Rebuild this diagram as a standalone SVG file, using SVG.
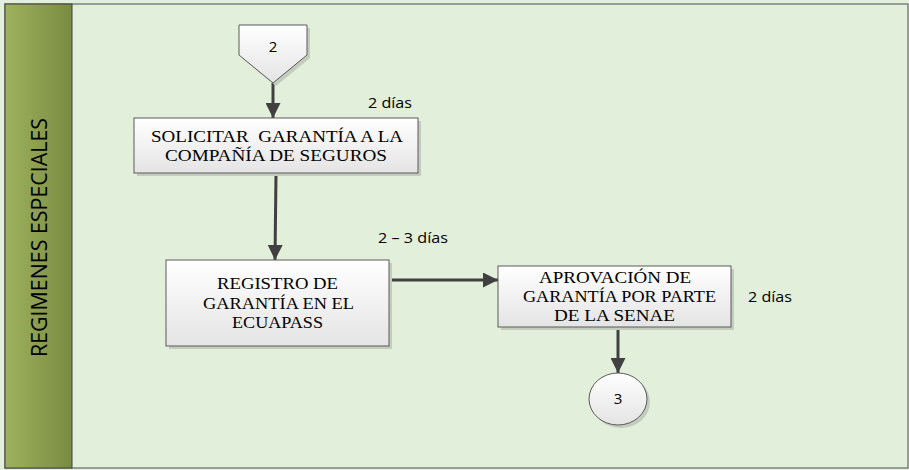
<svg xmlns="http://www.w3.org/2000/svg" width="909" height="470" viewBox="0 0 909 470">
<defs>
<linearGradient id="hdr" x1="0" y1="0" x2="1" y2="0">
<stop offset="0" stop-color="#9db25e"/>
<stop offset="1" stop-color="#7a8b41"/>
</linearGradient>
<linearGradient id="box" x1="0" y1="0" x2="0" y2="1">
<stop offset="0" stop-color="#ffffff"/>
<stop offset="1" stop-color="#e4e4e4"/>
</linearGradient>
<marker id="ah" viewBox="0 0 10 10" refX="10" refY="5" markerWidth="5" markerHeight="5" markerUnits="strokeWidth" orient="auto">
<path d="M0,0 L10,5 L0,10 Z" fill="#404040"/>
</marker>
</defs>
<style>
.node{fill:url(#box);stroke:#5a5a5a;stroke-width:1}
.shadow{fill:#c4cdbd;stroke:none}
.t{font-family:"Liberation Serif","Times New Roman",serif;font-size:17px;fill:#000;text-anchor:middle}
.lbl{font-family:"Open Sans","Liberation Sans",sans-serif;font-size:15px;fill:#000}
.num{font-family:"Open Sans","Liberation Sans",sans-serif;font-size:15px;fill:#000;text-anchor:middle}
.conn{stroke:#404040;stroke-width:3;fill:none;marker-end:url(#ah)}
</style>
<rect x="0" y="0" width="909" height="470" fill="#e2efda"/>
<g id="lane">
<rect x="5" y="4" width="903" height="464" fill="#e2efda" stroke="#808080" stroke-width="1.5"/>
<rect x="5" y="4" width="67" height="464" fill="url(#hdr)" stroke="#404040" stroke-width="1"/>
<text transform="translate(47,237.5) rotate(-90)" font-family="'Open Sans','Liberation Sans',sans-serif" font-size="21" text-anchor="middle" fill="#000" textLength="239" lengthAdjust="spacingAndGlyphs">REGIMENES ESPECIALES</text>
</g>
<g id="connectors">
<line class="conn" x1="273" y1="83" x2="273" y2="118"/>
<line class="conn" x1="276" y1="174" x2="275" y2="260"/>
<line class="conn" x1="389" y1="280" x2="498" y2="280"/>
<line class="conn" x1="618" y1="327" x2="618" y2="373"/>
</g>
<g id="start2">
<polygon class="shadow" points="242,28 310,28 310,58 276,86 242,58"/>
<polygon class="node" points="239,25 307,25 307,55 273,83 239,55"/>
<text class="num" x="273" y="52">2</text>
</g>
<g id="solicitar">
<rect class="shadow" x="137" y="121" width="284" height="55"/>
<rect class="node" x="134" y="118" width="284" height="55"/>
<text class="t" x="277" y="141.5" textLength="252" lengthAdjust="spacingAndGlyphs" xml:space="preserve">SOLICITAR  GARANTÍA A LA</text>
<text class="t" x="276" y="160.5" textLength="222" lengthAdjust="spacingAndGlyphs">COMPAÑÍA DE SEGUROS</text>
</g>
<g id="registro">
<rect class="shadow" x="169" y="263" width="223" height="86"/>
<rect class="node" x="166" y="260" width="223" height="86"/>
<text class="t" x="277.5" y="289" textLength="121" lengthAdjust="spacingAndGlyphs">REGISTRO DE</text>
<text class="t" x="278.5" y="308.5" textLength="151" lengthAdjust="spacingAndGlyphs">GARANTÍA EN EL</text>
<text class="t" x="277.5" y="328" textLength="91" lengthAdjust="spacingAndGlyphs">ECUAPASS</text>
</g>
<g id="aprovacion">
<rect class="shadow" x="501" y="269" width="233" height="61"/>
<rect class="node" x="498" y="266" width="233" height="61"/>
<text class="t" x="615" y="283" textLength="152" lengthAdjust="spacingAndGlyphs">APROVACIÓN DE</text>
<text class="t" x="619.5" y="302" textLength="193" lengthAdjust="spacingAndGlyphs">GARANTÍA POR PARTE</text>
<text class="t" x="614.5" y="320.5" textLength="121" lengthAdjust="spacingAndGlyphs">DE LA SENAE</text>
</g>
<g id="end3">
<ellipse class="shadow" cx="621" cy="402" rx="29" ry="26"/>
<ellipse class="node" cx="618" cy="399" rx="29" ry="26"/>
<text class="num" x="618" y="404">3</text>
</g>
<g id="labels">
<text class="lbl" x="368" y="108" textLength="44" lengthAdjust="spacingAndGlyphs">2 días</text>
<text class="lbl" x="378" y="243" textLength="70" lengthAdjust="spacingAndGlyphs">2 – 3 días</text>
<text class="lbl" x="748" y="302" textLength="44" lengthAdjust="spacingAndGlyphs">2 días</text>
</g>
</svg>
